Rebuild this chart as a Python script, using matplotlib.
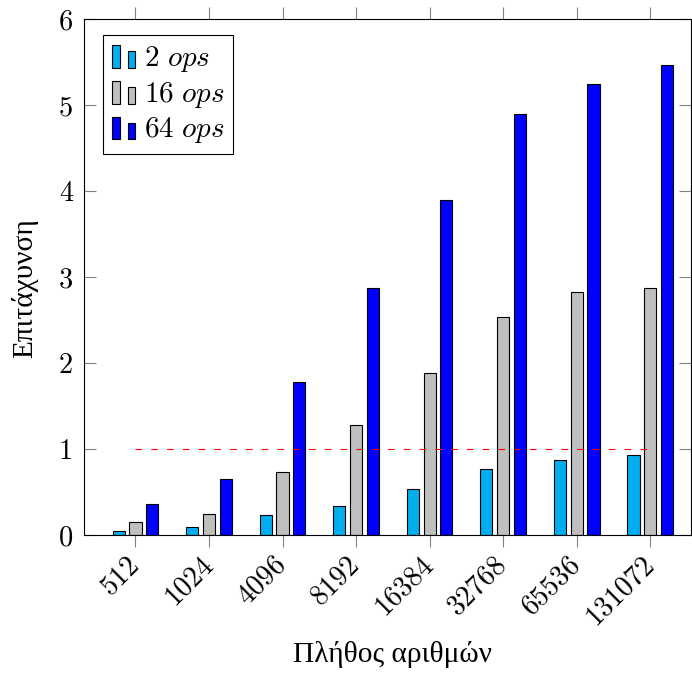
# Επιτάχυνση ανά πλήθος αριθμών - ομαδοποιημένα ραβδογράμματα
import numpy as np
import matplotlib
matplotlib.use("Agg")
import matplotlib.pyplot as plt
from matplotlib.legend_handler import HandlerBase
from matplotlib.patches import Rectangle

plt.rcParams["mathtext.fontset"] = "cm"
plt.rcParams["font.size"] = 20

megethi = ["512", "1024", "4096", "8192", "16384", "32768", "65536", "131072"]
ops_2 = [0.05, 0.09, 0.23, 0.34, 0.53, 0.77, 0.87, 0.93]
ops_16 = [0.15, 0.25, 0.73, 1.28, 1.88, 2.53, 2.83, 2.87]
ops_64 = [0.36, 0.65, 1.78, 2.87, 3.90, 4.90, 5.25, 5.46]
etiketes = [r"$2\ ops$", r"$16\ ops$", r"$64\ ops$"]
xromata = ["#00AEEF", "#BFBFBF", "#0000FF"]


class DyoRabdoi(HandlerBase):
    # εικονίδιο υπομνήματος σαν του pgfplots: δύο μικρές ράβδοι
    def create_artists(self, legend, orig, xd, yd, w, h, fontsize, trans):
        fc = orig.get_facecolor()
        bw = w * 0.33
        r1 = Rectangle((-xd, -yd - 1.5), bw, 16.3, fc=fc, ec="black", lw=0.8, transform=trans)
        r2 = Rectangle((-xd + w - bw, -yd - 1.5), bw, 12.0, fc=fc, ec="black", lw=0.8, transform=trans)
        return [r1, r2]


fig = plt.figure(figsize=(6.92, 6.75), dpi=100)
ax = fig.add_axes([83.5 / 692, 1 - 535 / 675, (691 - 83.5) / 692, (535 - 19) / 675])

x = np.arange(len(megethi))
platos = 0.166
metatopisi = 0.228
rabdoi = []
for k, (tim, lab, c) in enumerate(zip([ops_2, ops_16, ops_64], etiketes, xromata)):
    b = ax.bar(x + (k - 1) * metatopisi, tim, platos, color=c, edgecolor="black",
               linewidth=0.8, label=lab, zorder=2)
    rabdoi.append(b)

ax.hlines(1, x[0], x[-1], colors="red", linestyles=(0, (6, 8.2)), linewidth=0.8, zorder=3)

ax.set_xlim(-0.706, 7.554)
ax.set_ylim(0, 6)
ax.set_xticks(x)
ax.set_xticklabels(megethi, rotation=45, ha="right", va="center", rotation_mode="anchor",
                   fontfamily="cmr10", fontsize=20.5)
ax.set_yticks(range(0, 7))
ax.set_yticklabels([str(v) for v in range(0, 7)], fontfamily="cmr10", fontsize=20.5)
ax.tick_params(axis="x", direction="out", top=True, length=8.4, width=0.8, color="gray", pad=9.5)
ax.tick_params(axis="y", direction="in", right=True, length=8.4, width=0.8, color="gray", pad=7.4)
for s in ax.spines.values():
    s.set_linewidth(0.8)

ax.set_xlabel("Πλήθος αριθμών", fontfamily="Liberation Serif", fontsize=21.2)
ax.xaxis.set_label_coords(0.508, -0.2054)
ax.set_ylabel("Επιτάχυνση", fontfamily="Liberation Serif", fontsize=21.2)
ax.yaxis.set_label_coords(-0.075, 0.479)

leg = ax.legend(handles=[b.patches[0] for b in rabdoi], labels=etiketes,
                handler_map={Rectangle: DyoRabdoi()},
                loc="upper left", bbox_to_anchor=(0.0326, 0.969), borderaxespad=0,
                fancybox=False, edgecolor="black", framealpha=1, fontsize=21,
                handlelength=0.8, handletextpad=0.28, labelspacing=0.2, borderpad=0.3)
leg.get_frame().set_linewidth(0.8)

fig.savefig("out.png", dpi=100)
